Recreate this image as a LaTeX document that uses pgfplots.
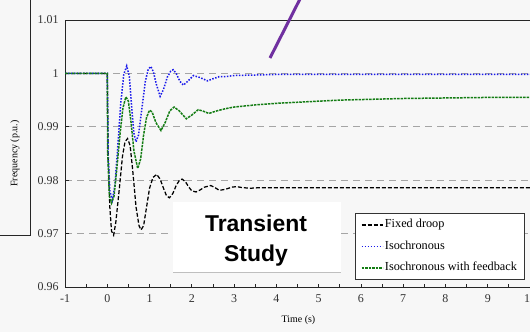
\documentclass[border=0pt]{standalone}
\usepackage{fontspec}
\setmainfont{Liberation Serif}
\newfontfamily\arialfont{Liberation Sans}
\usepackage{pgfplots}
\pgfplotsset{compat=1.18}
\definecolor{isoblue}{RGB}{25,25,235}
\definecolor{fbgreen}{RGB}{20,125,20}
\definecolor{gridgray}{RGB}{165,165,165}
\definecolor{annpurple}{RGB}{112,48,160}
\begin{document}
\begin{tikzpicture}[x=1bp,y=1bp]
\path[use as bounding box, fill=black!3] (0,0) rectangle (530,332);
\draw[line width=0.9bp, black!85] (30,333) -- (30,97) -- (-1,97);
\begin{axis}[
  at={(65bp,45bp)}, anchor=south west, scale only axis,
  width=465bp, height=267bp,
  xmin=-1, xmax=10, ymin=0.96, ymax=1.01,
  axis x line*=bottom, axis y line*=left,
  axis line style={black!85, line width=0.9bp},
  tick align=inside,
  xtick={-1,0,1,2,3,4,5,6,7,8,9,10},
  xticklabels={-1,0,1,2,3,4,5,6,7,8,9,10},
  minor x tick num=1,
  ytick={0.96,0.97,0.98,0.99,1,1.01},
  yticklabels={0.96,0.97,0.98,0.99,1,1.01},
  major tick length=3.5bp, minor tick length=3bp,
  every tick/.style={black!85, line width=0.8bp},
  ymajorgrids,
  major grid style={gridgray, line width=0.9bp, dash pattern=on 7bp off 5bp},
  ticklabel style={font=\fontsize{12}{14}\selectfont, text=black!80},
  yticklabel style={xshift=-3bp},
  xticklabel style={yshift=-4bp},
  xlabel={Time (s)}, ylabel={Frequency (p.u.)},
  label style={font=\fontsize{12}{14}\selectfont, text=black!90},
  every axis x label/.style={at={(axis description cs:0.502,-0.1236)}, anchor=center},
  every axis y label/.style={at={(axis description cs:-0.1075,0.5)}, anchor=center, rotate=90},
  legend cell align=left,
  legend style={at={(axis description cs:0.6237,0.2772)}, anchor=north west,
    draw=black!80, line width=0.8bp, fill=white, font=\fontsize{12.3}{14}\selectfont,
    inner xsep=5.5bp, inner ysep=3.5bp, row sep=5.5bp,
    nodes={text height=9bp, text depth=3bp, inner ysep=2bp, inner xsep=1.5bp}},
  legend image code/.code={\draw[#1] (0bp,0bp) -- (21bp,0bp);},
]
\addplot[black, line width=1.25bp, dash pattern=on 4bp off 2bp] coordinates {
(-1,1) (0,1) (0.02,0.985) (0.06,0.975) (0.1,0.9705) (0.15,0.9697) (0.2,0.972)
(0.28,0.978) (0.36,0.9845) (0.42,0.9872) (0.48,0.9878) (0.54,0.9865) (0.6,0.982)
(0.68,0.975) (0.75,0.9715) (0.8,0.9707) (0.86,0.9715) (0.93,0.975) (1.0,0.9785)
(1.08,0.9805) (1.17,0.9811) (1.25,0.9802) (1.33,0.9785) (1.4,0.9771) (1.47,0.9767)
(1.55,0.9775) (1.63,0.979) (1.7,0.9799) (1.77,0.9802) (1.85,0.9797) (1.93,0.9787)
(2.0,0.978) (2.1,0.9778) (2.2,0.9782) (2.3,0.9787) (2.45,0.979) (2.55,0.9786)
(2.65,0.9781) (2.8,0.9783) (2.95,0.9787) (3.06,0.9788) (3.2,0.9786) (3.4,0.9785)
(3.6,0.9786) (4,0.9786) (5,0.9786) (6,0.9786) (7,0.9786) (8,0.9786) (9,0.9786) (10,0.9786)
};
\addlegendentry{Fixed droop}
\addplot[isoblue, line width=1.5bp, dash pattern=on 1.5bp off 1.5bp] coordinates {
(-1,1) (0,1) (0.02,0.985) (0.06,0.978) (0.12,0.9763) (0.18,0.979) (0.25,0.9865)
(0.32,0.9945) (0.39,0.9998) (0.46,1.0014) (0.52,0.9995) (0.58,0.9935) (0.63,0.9888)
(0.68,0.9872) (0.74,0.9885) (0.82,0.9935) (0.9,0.9985) (0.97,1.0008) (1.03,1.0013)
(1.09,1.0003) (1.16,0.998) (1.25,0.9957) (1.33,0.997) (1.42,0.9993) (1.5,1.0004)
(1.56,1.0007) (1.63,1.0) (1.72,0.9985) (1.8,0.9978) (1.9,0.9985) (2.04,0.9996)
(2.2,0.9992) (2.37,0.9986) (2.5,0.999) (2.65,0.9994) (2.8,0.9994) (3.0,0.9996)
(3.5,0.9997) (4,0.9998) (5,0.9998) (6,0.9998) (7,0.9998) (8,0.9998) (9,0.9998) (10,0.9998)
};
\addlegendentry{Isochronous}
\addplot[fbgreen, line width=1.5bp, dash pattern=on 2.5bp off 1bp] coordinates {
(-1,1) (0,1) (0.01,0.985) (0.05,0.977) (0.1,0.9757) (0.16,0.977) (0.23,0.9825)
(0.3,0.9885) (0.37,0.9935) (0.44,0.9956) (0.5,0.9948) (0.56,0.991) (0.63,0.9855)
(0.72,0.9822) (0.79,0.984) (0.86,0.9885) (0.93,0.9918) (1.0,0.9931) (1.06,0.9928)
(1.15,0.9908) (1.27,0.9893) (1.37,0.9908) (1.48,0.993) (1.58,0.9937) (1.7,0.993)
(1.87,0.9915) (2.0,0.9922) (2.15,0.9932) (2.28,0.9929) (2.4,0.9925) (2.6,0.993)
(2.8,0.9934) (3.0,0.9937) (3.5,0.9941) (4,0.9944) (4.5,0.9946) (5,0.9948)
(5.5,0.995) (6,0.9951) (7,0.9953) (8,0.9954) (9,0.9955) (10,0.9955)
};
\addlegendentry{Isochronous with feedback}
\draw[black!85, line width=0.9bp] (rel axis cs:0,1) -- (rel axis cs:1,1);
\end{axis}
\fill[white] (173,60) rectangle (341,130);
\draw[black!25, line width=0.8bp] (173,60) -- (341,60);
\node[font=\arialfont\bfseries\fontsize{23}{30}\selectfont, align=center] at (256,91) {Transient\\Study};
\draw[annpurple, line width=3bp] (270,274) -- (301,335);
\end{tikzpicture}
\end{document}
